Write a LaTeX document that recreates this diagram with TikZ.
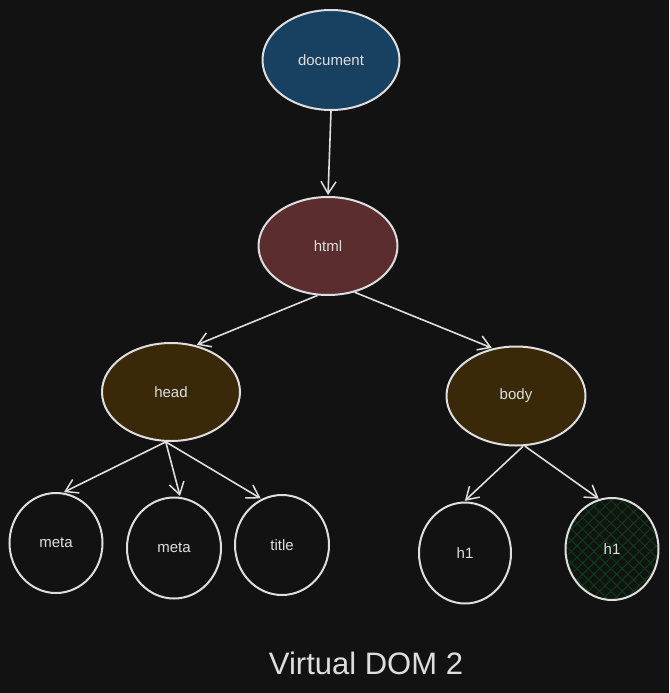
\documentclass[tikz,border=0pt]{standalone}
\usepackage{fontspec}
\setmainfont{Liberation Sans}
\usepackage{tikz}
\usetikzlibrary{arrows.meta,shapes.geometric,patterns.meta,positioning}
\definecolor{bgdark}{RGB}{18,18,18}
\definecolor{strokegray}{RGB}{222,222,222}
\definecolor{bluedoc}{RGB}{24,64,97}
\definecolor{redhtml}{RGB}{92,45,46}
\definecolor{brownsec}{RGB}{57,41,9}
\definecolor{greenhatch}{RGB}{10,62,22}

\begin{document}
\begin{tikzpicture}[x=1pt,y=-1pt]

    \fill[bgdark] (0,0) rectangle (669,693);
    \useasboundingbox (0,0) rectangle (669,693);

           \tikzstyle{every edge}=[draw,-{Straight Barb[length=12pt,width=15pt,line width=1.5pt]},shorten >=1pt,line width=1.6pt,color=strokegray]
           \tikzstyle{every node}=[text=strokegray,font=\fontsize{15}{17}\selectfont]
           \tikzstyle{oval}=[ellipse,draw=strokegray,line width=2pt,inner sep=0pt]
           \tikzstyle{hatched}=[preaction={pattern={Lines[angle=45,distance=8pt,line width=1pt]},pattern color=greenhatch},pattern={Lines[angle=-45,distance=8pt,line width=1pt]},pattern color=greenhatch]

    \node[oval, fill=bluedoc, minimum width=137, minimum height=100] (doc) at (331,60) {document};
    \node[oval, fill=redhtml, minimum width=139, minimum height=98] (html) at (328,246) {html};
    \node[oval, fill=brownsec, minimum width=138, minimum height=98] (head) at (171,392) {head};
    \node[oval, fill=brownsec, minimum width=139, minimum height=99] (body) at (516,396) {body};
    \node[oval, minimum width=93, minimum height=100] (meta1) at (56,543) {meta};
    \node[oval, minimum width=94, minimum height=101] (meta2) at (174,548) {meta};
    \node[oval, minimum width=94, minimum height=100] (title) at (282,545) {title};
    \node[oval, minimum width=92, minimum height=101] (hone) at (465,553) {h1};
    \node[oval, hatched, minimum width=93, minimum height=102] (htwo) at (612,549) {h1};

    \node[font=\fontsize{31}{35}\selectfont] (caption) at (366,663) {Virtual DOM 2};

    \path (doc.south) edge (html.north);
    \path (html.-102) edge (head.62);
    \path (html.-60) edge (body.116);
    \path (head.-96) edge (meta1.82);
    \path (head.-96) edge (meta2.83);
    \path (head.-96) edge (title.114);
    \path (body.-82) edge (hone.91);
    \path (body.-80) edge (htwo.104);

     \end{tikzpicture}
\end{document}
